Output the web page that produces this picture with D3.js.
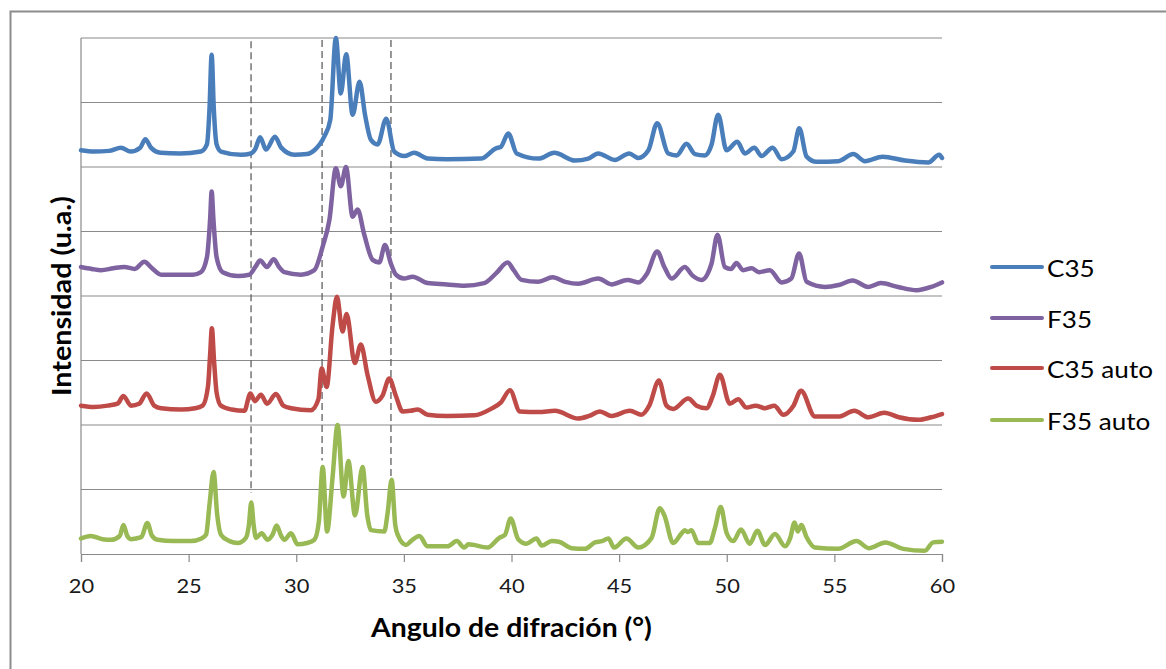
<!DOCTYPE html>
<html><head><meta charset="utf-8">
<script src="https://cdn.jsdelivr.net/npm/d3@7"></script>
<style>body{margin:0;background:#fff;} svg{display:block;}</style>
</head><body>
<svg id="chart" width="1166" height="669"></svg>
<script>
// ---------- DATA ----------
const seriesNames = ["C35", "F35", "C35 auto", "F35 auto"];
const xTicks = [20, 25, 30, 35, 40, 45, 50, 55, 60];
const yGrid = [0, 1, 2, 3, 4, 5, 6, 7, 8];
const refAngles = [27.9, 31.2, 34.4];
const refTop = [7.95, 7.97, 7.97];
const refBottom = [0.95, 1.45, 1.18];

const c35 = [[20.0,6.26],[20.6,6.24],[21.3,6.25],[21.86,6.30],[22.3,6.24],[22.75,6.3],[22.99,6.43],[23.25,6.3],[23.7,6.22],[24.6,6.21],[25.57,6.24],[25.85,6.35],[25.97,6.9],[26.07,7.74],[26.17,6.9],[26.3,6.35],[26.5,6.24],[27.43,6.19],[27.9,6.21],[28.1,6.28],[28.32,6.46],[28.6,6.27],[29.01,6.47],[29.3,6.3],[29.91,6.19],[30.5,6.2],[30.84,6.26],[31.3,6.47],[31.58,6.73],[31.84,8.0],[32.07,7.14],[32.32,7.75],[32.62,6.81],[32.94,7.32],[33.2,6.8],[33.47,6.42],[33.78,6.35],[34.18,6.75],[34.55,6.24],[35.02,6.17],[35.48,6.22],[36.1,6.13],[37.0,6.12],[38.58,6.13],[39.28,6.29],[39.5,6.31],[39.85,6.52],[40.24,6.21],[41.25,6.13],[41.99,6.22],[42.95,6.1],[43.57,6.13],[44.03,6.21],[44.8,6.11],[45.47,6.21],[45.89,6.14],[46.36,6.26],[46.77,6.68],[47.28,6.21],[47.67,6.18],[48.13,6.36],[48.52,6.2],[48.98,6.18],[49.29,6.34],[49.6,6.81],[49.99,6.26],[50.49,6.39],[50.84,6.21],[51.28,6.3],[51.62,6.17],[52.13,6.3],[52.55,6.12],[53.09,6.24],[53.37,6.6],[53.71,6.16],[54.17,6.08],[55.18,6.09],[55.88,6.2],[56.42,6.09],[57.24,6.16],[58.28,6.1],[59.36,6.07],[59.87,6.19],[60.0,6.14]];

const f35 = [[20.0,4.45],[20.5,4.42],[20.93,4.4],[21.5,4.43],[22.01,4.45],[22.5,4.42],[22.94,4.53],[23.3,4.43],[23.72,4.33],[24.65,4.33],[25.2,4.33],[25.57,4.37],[25.85,4.6],[26.0,5.2],[26.07,5.62],[26.15,5.2],[26.3,4.6],[26.58,4.37],[27.28,4.31],[27.82,4.33],[28.1,4.45],[28.32,4.55],[28.64,4.45],[28.95,4.57],[29.2,4.45],[29.45,4.37],[30.22,4.33],[30.84,4.4],[31.23,4.77],[31.54,5.18],[31.84,5.98],[32.07,5.7],[32.31,6.0],[32.62,5.23],[32.85,5.34],[33.16,4.95],[33.55,4.56],[33.86,4.52],[34.12,4.79],[34.4,4.5],[34.63,4.33],[35.0,4.27],[35.41,4.3],[36.1,4.2],[37.0,4.18],[37.8,4.16],[38.73,4.2],[39.28,4.35],[39.82,4.52],[40.1,4.4],[40.47,4.25],[41.25,4.22],[41.91,4.29],[42.5,4.22],[43.1,4.19],[44.03,4.27],[44.65,4.18],[45.39,4.25],[45.89,4.21],[46.3,4.35],[46.77,4.69],[47.1,4.45],[47.44,4.27],[48.05,4.45],[48.4,4.32],[48.83,4.25],[49.29,4.5],[49.57,4.95],[49.91,4.45],[50.2,4.42],[50.45,4.51],[50.76,4.4],[51.15,4.43],[51.5,4.37],[52.0,4.4],[52.55,4.21],[53.0,4.27],[53.36,4.66],[53.71,4.22],[54.57,4.14],[55.2,4.17],[55.85,4.24],[56.58,4.14],[57.16,4.2],[57.96,4.14],[58.82,4.09],[59.5,4.14],[60.0,4.21]];

const c35auto = [[20.0,2.3],[20.6,2.28],[21.24,2.3],[21.7,2.33],[21.97,2.45],[22.32,2.3],[22.7,2.33],[23.05,2.49],[23.4,2.3],[23.72,2.26],[24.65,2.24],[25.3,2.26],[25.65,2.3],[25.9,2.6],[26.0,3.1],[26.08,3.5],[26.18,3.0],[26.3,2.5],[26.5,2.3],[27.0,2.24],[27.59,2.22],[27.87,2.49],[28.08,2.37],[28.36,2.47],[28.64,2.33],[29.06,2.48],[29.4,2.3],[29.76,2.26],[30.68,2.23],[31.03,2.4],[31.18,2.88],[31.41,2.59],[31.69,3.55],[31.89,3.99],[32.15,3.45],[32.34,3.72],[32.72,2.96],[33.0,3.25],[33.31,2.78],[33.7,2.36],[34.0,2.45],[34.32,2.72],[34.63,2.45],[34.94,2.21],[35.3,2.22],[35.64,2.24],[36.1,2.16],[37.0,2.14],[38.27,2.15],[39.05,2.25],[39.51,2.35],[39.93,2.54],[40.39,2.21],[41.25,2.2],[42.02,2.22],[43.1,2.1],[43.6,2.14],[44.11,2.21],[44.65,2.14],[45.5,2.22],[46.04,2.16],[46.4,2.3],[46.85,2.69],[47.2,2.3],[47.51,2.25],[48.21,2.41],[48.6,2.3],[49.06,2.26],[49.35,2.45],[49.68,2.78],[50.14,2.33],[50.53,2.4],[50.92,2.27],[51.34,2.3],[51.78,2.26],[52.21,2.3],[52.63,2.16],[53.1,2.3],[53.45,2.53],[54.1,2.13],[55.18,2.13],[55.93,2.22],[56.58,2.12],[57.32,2.19],[58.0,2.12],[58.9,2.08],[59.5,2.12],[60.0,2.17]];

const f35auto = [[20.0,0.24],[20.46,0.28],[21.0,0.23],[21.39,0.22],[21.8,0.28],[21.97,0.45],[22.15,0.28],[22.32,0.23],[22.8,0.26],[23.08,0.48],[23.3,0.28],[23.56,0.22],[24.3,0.2],[25.11,0.2],[25.6,0.24],[25.81,0.3],[25.98,0.8],[26.16,1.27],[26.33,0.6],[26.5,0.3],[26.9,0.2],[27.28,0.17],[27.66,0.25],[27.8,0.45],[27.91,0.8],[28.02,0.45],[28.13,0.25],[28.39,0.32],[28.67,0.22],[28.9,0.3],[29.09,0.44],[29.3,0.28],[29.45,0.22],[29.76,0.32],[30.06,0.15],[30.5,0.17],[30.84,0.22],[31.05,0.5],[31.23,1.35],[31.43,0.35],[31.69,1.2],[31.92,2.0],[32.2,0.89],[32.42,1.44],[32.73,0.6],[33.08,1.35],[33.3,0.6],[33.47,0.37],[34.09,0.35],[34.25,0.65],[34.43,1.15],[34.6,0.45],[34.71,0.3],[35.1,0.14],[35.33,0.2],[35.72,0.28],[36.1,0.12],[37.03,0.12],[37.46,0.2],[37.8,0.1],[38.0,0.15],[38.89,0.1],[39.43,0.25],[39.7,0.3],[39.96,0.55],[40.31,0.23],[40.7,0.16],[41.16,0.24],[41.4,0.13],[41.87,0.2],[42.2,0.19],[42.79,0.09],[43.41,0.08],[43.88,0.18],[44.2,0.2],[44.5,0.24],[44.77,0.1],[45.34,0.24],[45.89,0.1],[46.51,0.25],[46.89,0.71],[47.1,0.6],[47.51,0.17],[47.9,0.32],[48.05,0.37],[48.2,0.34],[48.36,0.37],[48.67,0.17],[49.21,0.17],[49.45,0.4],[49.72,0.73],[49.99,0.33],[50.3,0.2],[50.66,0.38],[51.07,0.16],[51.42,0.36],[51.78,0.14],[52.24,0.31],[52.71,0.12],[52.95,0.25],[53.15,0.49],[53.3,0.35],[53.46,0.45],[53.71,0.26],[54.1,0.1],[55.18,0.08],[56.03,0.2],[56.6,0.09],[57.37,0.18],[58.2,0.08],[59.2,0.05],[59.59,0.18],[60.0,0.19]];

const seriesData = [c35, f35, c35auto, f35auto];
const seriesColors = ["#4A7EBB", "#7F63A1", "#BE4B48", "#98B954"];

// ---------- LAYOUT ----------
const m = {left: 81, right: 942, top: 38, bottom: 554};
const FONT = "Lato, 'Open Sans', sans-serif";

const svg = d3.select("#chart");

// outer frame
svg.append("rect").attr("x", 10.5).attr("y", 11.5).attr("width", 1300).attr("height", 800)
  .attr("fill", "none").attr("stroke", "#8c8c8c").attr("stroke-width", 2);

const x = d3.scaleLinear().domain([20, 60]).range([m.left, m.right]);
const y = d3.scaleLinear().domain([0, 8]).range([m.bottom, m.top]);

// horizontal gridlines
svg.append("g").selectAll("line").data(yGrid.filter(d => d > 0)).join("line")
  .attr("x1", m.left).attr("x2", m.right)
  .attr("y1", d => y(d)).attr("y2", d => y(d))
  .attr("stroke", "#8a8a8a").attr("stroke-width", 1.2);

// left axis line
svg.append("line").attr("x1", m.left).attr("x2", m.left).attr("y1", m.top).attr("y2", m.bottom)
  .attr("stroke", "#8a8a8a").attr("stroke-width", 1.2);

// x axis
const xAxis = d3.axisBottom(x).tickValues(xTicks).tickSize(8).tickPadding(18).tickFormat(d3.format("d"));
const gx = svg.append("g").attr("transform", `translate(0,${m.bottom})`).call(xAxis);
gx.select(".domain").attr("stroke", "#8a8a8a").attr("stroke-width", 1.2);
gx.selectAll(".tick line").attr("stroke", "#8a8a8a").attr("stroke-width", 1.2);
gx.selectAll(".tick text").attr("font-family", FONT).attr("font-size", 19).attr("fill", "#1a1a1a")
  .attr("x", 0).attr("transform", "scale(1.15,1)");

// reference dashed lines
svg.append("g").selectAll("line").data(refAngles).join("line")
  .attr("x1", d => x(d)).attr("x2", d => x(d))
  .attr("y1", (d, i) => y(refTop[i])).attr("y2", (d, i) => y(refBottom[i]))
  .attr("stroke", "#606060").attr("stroke-width", 1.3).attr("stroke-dasharray", "7,4");

// series lines
const line = d3.line().x(d => x(d[0])).y(d => y(d[1])).curve(d3.curveMonotoneX);
svg.append("g").selectAll("path").data(seriesData).join("path")
  .attr("d", line).attr("fill", "none")
  .attr("stroke", (d, i) => seriesColors[i]).attr("stroke-width", 4.5)
  .attr("stroke-linejoin", "round").attr("stroke-linecap", "round");

// fit text to target width with horizontal scale
function fitText(sel, targetW) {
  return targetW / sel.node().getComputedTextLength();
}

// x axis title
const xt = svg.append("text").text("Angulo de difración (°)")
  .attr("font-family", FONT).attr("font-weight", "bold").attr("font-size", 27)
  .attr("text-anchor", "middle").attr("fill", "#000");
const sx = fitText(xt, 281);
xt.attr("transform", `translate(${(m.left + m.right) / 2},637) scale(${sx},1)`);

// y axis title
const yt = svg.append("text").text("Intensidad (u.a.)")
  .attr("font-family", FONT).attr("font-weight", "bold").attr("font-size", 26)
  .attr("text-anchor", "middle").attr("fill", "#000");
const sy = fitText(yt, 200);
yt.attr("transform", `translate(71,${(m.top + m.bottom) / 2}) rotate(-90) scale(${sy},1)`);

// legend
const legY = [267, 318, 368, 420];
const leg = svg.append("g").selectAll("g").data(seriesNames).join("g")
  .attr("transform", (d, i) => `translate(992,${legY[i]})`);
leg.append("line").attr("x1", 0).attr("x2", 50).attr("y1", 0).attr("y2", 0)
  .attr("stroke", (d, i) => seriesColors[i]).attr("stroke-width", 4).attr("stroke-linecap", "round");
const lt = leg.append("text").text(d => d).attr("x", 0).attr("y", 0)
  .attr("font-family", FONT).attr("font-size", 24).attr("fill", "#000")
  .attr("dominant-baseline", "central");
const ls = fitText(d3.select(lt.nodes()[2]), 106);
lt.attr("transform", `translate(55,0) scale(${ls},1)`);
</script>
</body></html>
